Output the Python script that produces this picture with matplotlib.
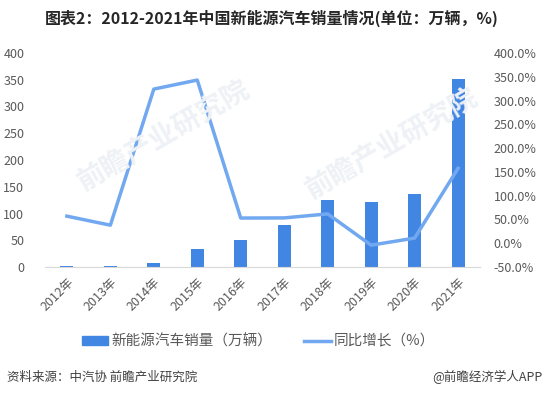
import matplotlib.pyplot as plt
from matplotlib.patches import Patch
from matplotlib.lines import Line2D

plt.rcParams['font.family'] = ['Noto Sans CJK SC', 'DejaVu Sans']

years = ['2012年', '2013年', '2014年', '2015年', '2016年', '2017年', '2018年', '2019年', '2020年', '2021年']
sales = [1.3, 1.8, 7.5, 33.1, 50.7, 77.7, 125.6, 120.6, 136.7, 352.1]
growth = [57, 38, 324, 343, 53, 53.3, 61.7, -4, 10.9, 157.5]

bar_color = '#4286E3'
line_color = '#72A8F0'
text_color = '#595959'

fig = plt.figure(figsize=(5.44, 3.98), dpi=100)

# faint watermark
for wx, wy in [(0.30, 0.66), (0.72, 0.64)]:
    fig.text(wx, wy, '前瞻产业研究院', rotation=30, ha='center', va='center',
             fontsize=20, fontweight='bold', color='#EEF1F5', zorder=0)

ax = fig.add_axes([0.083, 0.329, 0.799, 0.538])
ax.patch.set_alpha(0)
x = list(range(len(years)))
ax.bar(x, sales, width=0.3, color=bar_color, zorder=2)
ax.set_ylim(0, 400)
ax.set_yticks(range(0, 401, 50))
ax.set_xlim(-0.5, len(years) - 0.5)
ax.set_xticks(x)
ax.set_xticklabels(years, rotation=45, ha='right', rotation_mode='anchor')

ax2 = ax.twinx()
ax2.plot(x, growth, color=line_color, lw=2.5, zorder=3)
ax2.set_ylim(-50, 400)
ax2.set_yticks(range(-50, 401, 50))
ax2.set_yticklabels([f'{v:.1f}%' for v in range(-50, 401, 50)])

for a in (ax, ax2):
    for s in a.spines.values():
        s.set_visible(False)
    a.tick_params(length=0, labelsize=9, colors=text_color)
ax.spines['bottom'].set_visible(True)
ax.spines['bottom'].set_color('#D9D9D9')
ax.tick_params(axis='y', pad=15)
ax.tick_params(axis='x', pad=6)
ax2.tick_params(axis='y', pad=10)

fig.text(0.5, 0.955, '图表2：2012-2021年中国新能源汽车销量情况(单位：万辆，%)',
         ha='center', va='center', fontsize=11.5, fontweight='bold', color='#262626')

handles = [Patch(color=bar_color), Line2D([0], [0], color=line_color, lw=2.5)]
fig.legend(handles, ['新能源汽车销量（万辆）', '同比增长（%）'], loc='center',
           bbox_to_anchor=(0.475, 0.142), ncol=2, frameon=False, fontsize=10.5,
           handlelength=1.8, handleheight=0.6, handletextpad=0.2,
           columnspacing=2.2, labelcolor=text_color)

fig.text(0.012, 0.052, '资料来源：中汽协 前瞻产业研究院', ha='left', va='center',
         fontsize=9, color='#404040')
fig.text(0.998, 0.052, '@前瞻经济学人APP', ha='right', va='center',
         fontsize=9, color='#404040')

fig.savefig('out.png', dpi=100)
